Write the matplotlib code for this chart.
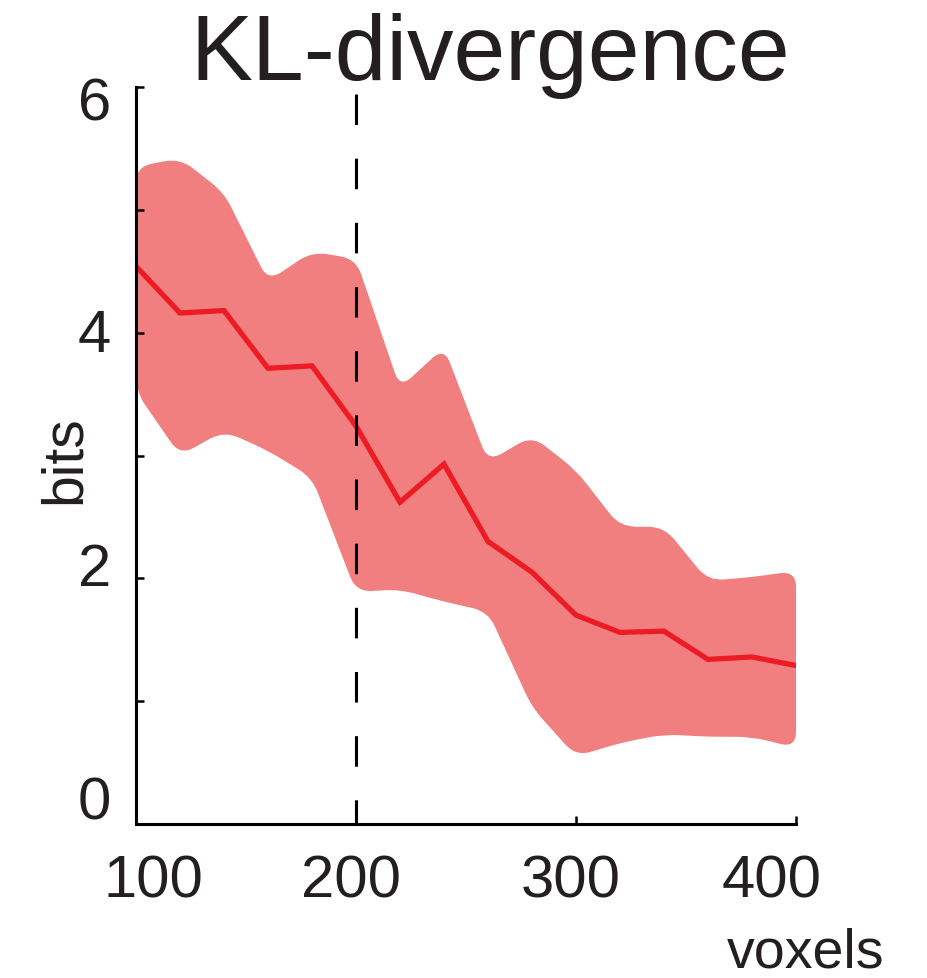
import numpy as np
import matplotlib
matplotlib.use("Agg")
import matplotlib.pyplot as plt
from matplotlib.path import Path
from matplotlib.patches import PathPatch
from matplotlib.transforms import Affine2D

plt.rcParams['font.family'] = ['Liberation Sans', 'DejaVu Sans']

# ---- data ----
voxels = [100, 120, 140, 160, 180, 200, 220, 240, 260, 280, 300, 320, 340, 360, 380, 400]
kl_mean = [4.54, 4.16, 4.18, 3.71, 3.73, 3.24, 2.62, 2.93, 2.30, 2.05, 1.70, 1.56, 1.57, 1.34, 1.36, 1.29]
kl_upper = [5.35, 5.42, 5.14, 4.42, 4.66, 4.60, 3.55, 3.88, 2.95, 3.16, 2.88, 2.42, 2.42, 1.98, 2.01, 2.06]
kl_lower = [3.52, 3.00, 3.20, 3.04, 2.82, 1.89, 1.91, 1.81, 1.73, 0.95, 0.55, 0.66, 0.73, 0.71, 0.71, 0.62]
xticks = [100, 200, 300, 400]
xticklabels = ['100', '200', '300', '400']
yticks = [0, 2, 4, 6]
yticklabels = ['0', '2', '4', '6']
yminor = [1, 3, 5]
threshold = 200

band_color = '#F17F7F'
line_color = '#ED1C24'

W, H = 927, 979
fig = plt.figure(figsize=(W / 100, H / 100), dpi=100)
ax = fig.add_axes([136 / W, 1 - 825 / H, (796 - 136) / W, (825 - 88) / H])
ax.set_xlim(100, 400)
ax.set_ylim(0, 6)

# ---- band with rounded corners ----
xs = np.array(voxels, float)
verts = np.concatenate([np.column_stack([xs, kl_upper]),
                        np.column_stack([xs[::-1], np.array(kl_lower)[::-1]])])
disp = ax.transData.transform(verts)
n = len(verts)
r = 16.0  # rounding radius in pixels
codes = []
pts = []
for i in range(n):
    v = verts[i]
    vp = verts[i - 1]
    vn = verts[(i + 1) % n]
    dp = np.hypot(*(disp[i - 1] - disp[i]))
    dn = np.hypot(*(disp[(i + 1) % n] - disp[i]))
    tp = min(0.45, r / dp)
    tn = min(0.45, r / dn)
    a = v + tp * (vp - v)
    b = v + tn * (vn - v)
    pts.append(a); codes.append(Path.MOVETO if i == 0 else Path.LINETO)
    pts.append(v); codes.append(Path.CURVE3)
    pts.append(b); codes.append(Path.CURVE3)
pts.append(pts[0]); codes.append(Path.CLOSEPOLY)
band = PathPatch(Path(np.array(pts), codes), facecolor=band_color, edgecolor='none', zorder=1)
ax.add_patch(band)

# ---- mean line ----
ax.plot(voxels, kl_mean, color=line_color, lw=3.8, zorder=3, solid_joinstyle='miter')

# ---- dashed threshold line ----
ax.plot([threshold, threshold], [5.94, 0], color='black', lw=2.2, zorder=4,
        dashes=(10, 11), dash_capstyle='butt')

# ---- axes styling ----
for s in ['top', 'right']:
    ax.spines[s].set_visible(False)
for s in ['left', 'bottom']:
    ax.spines[s].set_linewidth(2.2)
    ax.spines[s].set_zorder(5)
ax.set_xticks(xticks)
ax.set_xticklabels(xticklabels)
ax.set_yticks(yticks)
ax.set_yticklabels(yticklabels)
ax.set_yticks(yminor, minor=True)
ax.tick_params(axis='both', which='both', direction='in', length=6, width=1.8, color='black',
               labelsize=43, labelcolor='#231F20')
ax.tick_params(axis='x', pad=21)
ax.tick_params(axis='y', pad=18)

x_offsets = [17, -5, -5, -24]
for lab, dx in zip(ax.get_xticklabels(), x_offsets):
    lab.set_transform(lab.get_transform() + Affine2D().translate(dx, 0))
y_offsets = [27, 15, 3, -11]
for lab, dy in zip(ax.get_yticklabels(), y_offsets):
    lab.set_transform(lab.get_transform() + Affine2D().translate(0, dy))

fig.text(490 / W, 1 - 80 / H, 'KL-divergence', ha='center', va='baseline',
         fontsize=67, color='#231F20')
fig.text(65 / W, 1 - 460 / H, 'bits', ha='center', va='center', rotation=90,
         fontsize=41, color='#231F20')
fig.text(727 / W, 1 - 968 / H, 'voxels', ha='left', va='baseline',
         fontsize=40, color='#231F20')

fig.savefig('out.png', dpi=100)
